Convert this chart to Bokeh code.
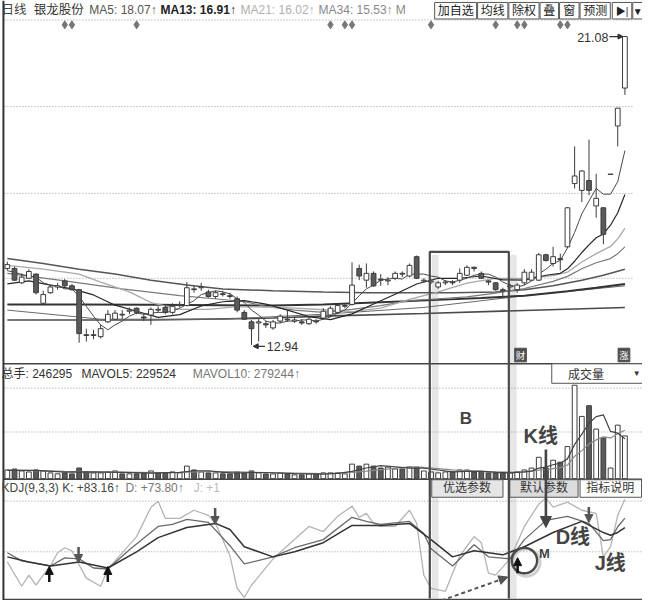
from bokeh.plotting import figure
from bokeh.models import Range1d, Label, Arrow, NormalHead, ColumnDataSource
from bokeh.embed import file_html
from bokeh.resources import INLINE

# ---------------- data ----------------
opens = [14.96,14.96,14.58,14.70,14.81,14.04,14.32,14.47,14.63,14.50,
         14.40,13.21,13.19,13.16,13.55,13.62,13.75,13.83,13.91,13.68,
         13.73,13.88,13.93,13.80,13.98,13.98,14.42,14.45,14.34,14.22,
         14.29,14.24,14.16,13.80,13.55,13.52,13.50,13.39,13.57,13.62,
         13.57,13.55,13.50,13.57,13.65,13.73,13.80,13.96,14.01,14.96,
         14.65,14.83,14.68,14.63,14.70,14.83,14.76,15.27,14.63,14.60,
         14.47,14.58,14.60,14.65,14.78,14.99,14.83,14.63,14.58,14.40,
         14.47,14.40,14.58,14.65,14.65,15.32,15.09,15.22,15.53,17.20,
         17.02,17.28,16.61,16.56,17.44,18.72,19.72]
highs = [15.14,15.01,14.83,14.94,14.83,14.37,14.52,14.58,14.68,14.55,
         14.42,13.37,13.34,13.47,13.86,13.86,13.86,13.93,13.93,13.75,
         13.93,13.96,14.01,14.04,14.09,14.60,14.50,14.58,14.40,14.37,
         14.37,14.32,14.22,13.86,13.60,13.62,13.57,13.60,13.75,13.86,
         13.68,13.62,13.68,13.62,13.91,13.96,14.04,14.04,15.12,15.06,
         15.09,14.88,14.81,14.73,14.88,14.88,15.09,15.30,14.70,14.68,
         14.63,14.65,14.65,14.96,15.04,15.01,14.88,14.65,14.60,14.45,
         14.55,14.58,14.94,14.94,15.37,15.35,15.53,15.35,16.58,18.18,
         17.56,18.36,17.46,16.58,17.45,19.19,21.08]
lows = [14.91,14.63,14.55,14.68,14.27,14.01,14.29,14.40,14.47,14.37,
        13.00,13.03,13.09,13.11,13.52,13.60,13.62,13.75,13.75,13.57,
        13.47,13.80,13.75,13.75,13.93,13.96,14.32,14.37,14.19,14.16,
        14.22,14.16,13.80,13.60,12.94,13.03,13.39,13.34,13.52,13.55,
        13.52,13.47,13.47,13.50,13.60,13.68,13.75,13.91,13.98,14.65,
        14.45,14.47,14.50,14.52,14.65,14.73,14.73,14.68,14.58,14.55,
        14.42,14.52,14.52,14.58,14.76,14.88,14.68,14.52,14.37,14.19,
        14.40,14.32,14.52,14.63,14.63,15.14,15.01,14.91,15.50,17.07,
        16.71,16.89,16.30,15.60,17.44,18.18,19.54]
closes = [15.06,14.65,14.73,14.88,14.32,14.27,14.47,14.50,14.50,14.40,
          13.24,13.19,13.21,13.37,13.75,13.78,13.73,13.86,13.80,13.65,
          13.88,13.86,13.80,13.96,14.01,14.45,14.40,14.47,14.22,14.32,
          14.27,14.22,13.86,13.62,13.37,13.55,13.47,13.55,13.70,13.60,
          13.60,13.52,13.62,13.55,13.83,13.91,13.98,13.98,14.52,14.76,
          14.83,14.50,14.65,14.65,14.83,14.81,15.04,14.70,14.65,14.63,
          14.58,14.60,14.58,14.83,14.99,14.96,14.70,14.60,14.40,14.37,
          14.50,14.52,14.86,14.86,15.32,15.17,15.27,15.19,16.56,17.40,
          17.53,17.02,16.81,15.86,17.45,19.19,21.08]
volumes = [50410,55870,44920,39150,50380,44760,33640,28120,33580,27960,
           61720,39240,33510,33660,39180,44850,27940,28060,28010,33620,
           44790,33570,33640,39210,33590,72860,50430,39170,33620,33580,
           28040,27990,39260,33610,44830,33570,28020,27980,33640,28010,
           22390,22460,28030,27970,33620,33580,33650,28040,84120,72790,
           83960,72830,61640,67180,56040,55970,67230,67160,44810,39230,
           33580,39210,39190,50440,50360,39220,39170,33610,33640,33570,
           33620,39180,50420,61590,123240,61630,106380,95170,184830,537620,
           358410,419960,285640,235180,61610,308020,246295]

ma5 = [14.90,14.86,14.80,14.76,14.73,14.58,14.52,14.50,14.42,14.42,
       14.22,13.96,13.70,13.47,13.34,13.47,13.57,13.70,13.78,13.75,
       13.78,13.80,13.80,13.83,13.91,14.01,14.11,14.27,14.32,14.37,
       14.34,14.29,14.16,14.06,13.86,13.73,13.57,13.52,13.52,13.57,
       13.57,13.60,13.60,13.57,13.62,13.68,13.78,13.86,14.04,14.24,
       14.42,14.52,14.65,14.68,14.70,14.68,14.81,14.81,14.81,14.76,
       14.73,14.63,14.60,14.65,14.70,14.78,14.81,14.81,14.73,14.60,
       14.52,14.47,14.52,14.63,14.81,14.94,15.09,15.17,15.50,15.91,
       16.40,16.74,17.07,16.92,16.92,17.25,18.07]
ma13_days = [0,3,6,9,12,15,18,21,24,27,30,33,36,39,42,45,48,51,54,57,
             60,63,66,69,72,75,77,78,79,80,81,82,83,84,85,86]
ma13 = [14.55,14.63,14.52,14.42,14.26,13.99,13.83,13.67,13.74,13.97,
        14.08,14.11,14.02,13.86,13.69,13.61,13.76,14.02,14.28,14.55,
        14.70,14.70,14.76,14.66,14.65,14.78,14.83,14.95,15.15,15.38,
        15.58,15.77,15.87,16.10,16.43,16.91]
ma21_days = [0,5,10,13,17,20,24,28,32,36,40,44,48,52,56,60,64,68,72,76,
             78,80,82,84,85,86]
ma21 = [15.04,14.94,14.81,14.60,14.34,14.06,13.88,13.88,13.95,13.94,
        13.91,13.87,13.82,13.91,14.14,14.34,14.57,14.70,14.69,14.77,
        14.86,15.13,15.35,15.54,15.74,16.02]
ma34_days = [0,8,16,24,30,33,36,40,44,48,52,56,60,64,68,72,76,78,80,82,84,85,86]
ma34 = [14.83,14.63,14.42,14.24,14.14,14.08,13.96,13.86,13.80,13.88,
        13.98,14.11,14.16,14.21,14.31,14.43,14.62,14.75,14.95,15.11,
        15.22,15.35,15.53]
ma55_days = [0,5,10,15,20,25,30,37,44,50,56,62,68,72,76,80,83,86]
ma55 = [15.22,15.09,14.94,14.81,14.65,14.52,14.42,14.37,14.34,14.32,
        14.32,14.32,14.34,14.40,14.50,14.65,14.78,14.94]
ma89_days = [0,10,20,30,37,44,52,60,66,72,78,82,86]
ma89 = [14.01,14.01,14.00,13.99,13.98,14.01,14.07,14.13,14.18,14.24,14.36,14.45,14.55]
ma120_days = [0,13,30,44,58,72,86]
ma120 = [13.86,13.62,13.62,13.75,13.93,14.24,14.50]
ma250_days = [0,20,37,44,58,72,86]
ma250 = [13.60,13.60,13.65,13.70,13.77,13.85,13.93]

mavol5_days = [0,4,8,12,16,20,24,26,28,30,32,34,36,40,44,46,48,50,52,54,56,58,
               60,62,64,66,68,70,72,73,74,75,76,77,78,79,80,81,82,83,84,85,86]
mavol5 = [47600,48200,38000,39200,37000,32500,37000,46000,46000,37000,32500,
          36000,36000,29000,27000,31000,42500,61600,75000,68300,61600,60500,
          50400,39200,42500,43700,37000,33600,39200,43700,61600,67200,80600,
          89600,114200,197100,256500,319200,357300,367400,272200,262100,229524]
mavol10_days = [0,4,8,12,16,20,24,28,32,36,40,44,48,50,52,54,56,58,60,62,64,66,
                68,70,72,74,75,76,77,78,79,80,81,82,83,84,85,86]
mavol10 = [50400,47000,42000,38000,38000,34700,35800,42000,39200,35300,32500,
           29700,35800,43700,52600,60000,68300,65000,58200,51000,46500,41400,
           39800,38000,39800,49800,51500,57700,63800,79000,129400,161800,199900,
           223400,240800,234600,259300,279244]

k_days = [0,2,6,8,10,12,14,17,21,23,25,28,31,33,37,40,44,48,50,52,
          56,58,59,62,65,67,70,72,75,78,81,83,84,85,86]
k_vals = [49,41,36,44,43,34,33,52,75,77,82,79,56,38,45,54,62,84,80,77,
          80,68,53,36,57,45,43,62,81,85,78,61,62,74.7,83.16]
d_days = [0,3,6,10,14,18,21,25,29,31,33,37,40,44,48,52,56,59,62,65,
          69,72,76,80,83,84,85,86]
d_vals = [45,40,36,40,34,50,64,74,78,72,55,45,50,59,76,76,78,62,45,51,
          47,55,69,80,69,66.3,69.1,73.8]
j_days = [0,2,3,4,5,6,7,8,9,10,11,13,14,16,18,20,21,22,24,26,
          28,29,31,32,33,34,37,39,42,44,46,48,49,50,51,52,54,56,57,58,
          59,61,63,65,66,67,68,70,72,74,75,76,78,80,82,83,84,85,86]
j_vals = [40,16,27,17,27,36,49,54,51,37,24,16,33,49,65,94,100,83,83,91,
          86,78,46,14,5,17,43,56,75,70,85,95,84,88,78,75,75,91,78,27,
          14,11,46,65,59,29,27,43,75,97,103,94,99,91,88,45,55,86,101.9]

event_days = [8, 9, 18, 45, 47, 48, 59, 68, 71, 72, 77, 78]
price_grid = [19.23, 16.94, 14.70]
vol_grid = [520800, 268800]
kdj_grid = [100, 50]

# ---------------- figure ----------------
FONT = "Liberation Sans, Noto Sans CJK SC"
INK = "#3c3c3c"

p = figure(width=642, height=600, output_backend="svg", toolbar_location=None,
           x_range=Range1d(-0.951, 88.45), y_range=Range1d(6.196, 22.031),
           x_axis_location=None, y_axis_location=None, min_border=0, title=None)
p.grid.visible = False
p.outline_line_color = None
p.background_fill_color = "white"
p.extra_y_ranges = {"vol": Range1d(-700000, 2749600),
                    "kdj": Range1d(1.92, 594.2),
                    "py": Range1d(616, 0)}
p.extra_x_ranges = {"px": Range1d(0, 658)}

# shading of box B (shadow bands)
p.quad(left=[442, 522], right=[449, 529], top=[261, 261], bottom=[614, 614],
       x_range_name="px", y_range_name="py", fill_color="#dedede",
       fill_alpha=0.75, line_color=None)

# dotted grid lines
p.segment(x0=[4], x1=[648], y0=[20], y1=[20], x_range_name="px", y_range_name="py",
          line_color="#9a9a9a", line_dash="1 2", line_width=1)
p.segment(x0=[4]*3, x1=[648]*3, y0=price_grid, y1=price_grid, x_range_name="px",
          line_color="#9a9a9a", line_dash="1 2", line_width=1)
p.segment(x0=[4]*2, x1=[658]*2, y0=vol_grid, y1=vol_grid, x_range_name="px",
          y_range_name="vol", line_color="#9a9a9a", line_dash="1 2", line_width=1)
p.segment(x0=[4]*2, x1=[658]*2, y0=kdj_grid, y1=kdj_grid, x_range_name="px",
          y_range_name="kdj", line_color="#9a9a9a", line_dash="1 2", line_width=1)

# candles
days = list(range(len(closes)))
up = [c >= o for o, c in zip(opens, closes)]
src = ColumnDataSource(dict(
    x=days, h=highs, l=lows,
    top=[max(o, c) for o, c in zip(opens, closes)],
    bot=[min(o, c) for o, c in zip(opens, closes)],
    fill=["white" if u else "#5a5a5a" for u in up],
    vol=volumes))

# moving averages
p.line(ma250_days, ma250, line_color="#4a4a4a", line_width=1.6)
p.line(ma120_days, ma120, line_color="#6a6a6a", line_width=1.0)
p.line(ma89_days, ma89, line_color="#333333", line_width=2.0)
p.line(ma55_days, ma55, line_color="#555555", line_width=1.5)
p.line(ma34_days, ma34, line_color="#7a7a7a", line_width=1.2)
p.line(ma21_days, ma21, line_color="#a8a8a8", line_width=1.3)
p.line(ma13_days, ma13, line_color="#262626", line_width=1.2)
p.line(days, ma5, line_color="#4a4a4a", line_width=1.0)

p.segment(x0="x", y0="h", x1="x", y1="l", source=src, line_color=INK, line_width=1)
p.vbar(x="x", width=0.66, top="top", bottom="bot", fill_color="fill",
       line_color=INK, line_width=1, source=src)

# event diamonds
p.scatter(x=event_days, y=[25]*len(event_days), y_range_name="py", marker="diamond",
          size=8, fill_color="#777777", line_color="#777777")

# volume
p.vbar(x="x", width=0.66, top="vol", bottom=0, fill_color="fill", line_color=INK,
       line_width=1, y_range_name="vol", source=src)
p.line(mavol10_days, mavol10, y_range_name="vol", line_color="#8a8a8a", line_width=1.2)
p.line(mavol5_days, mavol5, y_range_name="vol", line_color="#444444", line_width=1.2)

# KDJ
p.line(j_days, j_vals, y_range_name="kdj", line_color="#b4b4b4", line_width=1.3)
p.line(k_days, k_vals, y_range_name="kdj", line_color="#6a6a6a", line_width=1.3)
p.line(d_days, d_vals, y_range_name="kdj", line_color="#333333", line_width=1.5)

# panel separators and borders
p.segment(x0=[3, 3, 3], x1=[658, 658, 658], y0=[373, 491.5, 615], y1=[373, 491.5, 615],
          x_range_name="px", y_range_name="py", line_color="#444444", line_width=1.6)
p.segment(x0=[3], x1=[3], y0=[0], y1=[616], x_range_name="px", y_range_name="py",
          line_color="#333333", line_width=2)

# buttons at the top
btn_left = [445, 489, 521, 553, 573, 594, 627, 648]
btn_right = [488, 520, 552, 572, 593, 625, 647, 658]
btn_text = ["加自选", "均线", "除权", "叠", "窗", "预测", "▶|", "▼"]
p.quad(left=btn_left, right=btn_right, top=[2]*8, bottom=[19]*8,
       x_range_name="px", y_range_name="py", fill_color="white",
       line_color="#555555", line_width=1)

# volume dropdown
p.quad(left=[565], right=[659], top=[373], bottom=[393], x_range_name="px",
       y_range_name="py", fill_color="white", line_color="#555555", line_width=1)

# KDJ buttons
p.quad(left=[442, 522, 594], right=[515, 592, 657], top=[492, 492, 492],
       bottom=[510, 510, 510], x_range_name="px", y_range_name="py",
       fill_color=["#e6e6e6", "#dcdcdc", "white"], line_color="#555555", line_width=1)

# small icons
p.quad(left=[527, 633], right=[539, 645], top=[357, 357], bottom=[371, 371],
       x_range_name="px", y_range_name="py", fill_color="#505050", line_color="#505050")

# box B
p.line(x=[440, 440, 521, 521], y=[614, 258, 258, 614], x_range_name="px",
       y_range_name="py", line_color="#4a4a4a", line_width=2.2)

# circle M
p.circle(x=[539], y=[577], radius=14, x_range_name="px", y_range_name="py",
         fill_color=None, line_color="#d0d0d0", line_width=3)
p.circle(x=[537], y=[575], radius=13, x_range_name="px", y_range_name="py",
         fill_color=None, line_color="#4a4a4a", line_width=2.4)


def lab(x, y, text, size="11px", color="#333333", bold=False, align="left"):
    p.add_layout(Label(x=x, y=y, x_range_name="px", y_range_name="py", text=text,
                       text_font=FONT, text_font_size=size, text_color=color,
                       text_font_style="bold" if bold else "normal",
                       text_align=align, text_baseline="middle"))


def arrow(x0, y0, x1, y1, color, width=2.5, size=8, dash="solid"):
    p.add_layout(Arrow(end=NormalHead(size=size, fill_color=color, line_color=color),
                       x_start=x0, y_start=y0, x_end=x1, y_end=y1,
                       x_range_name="px", y_range_name="py",
                       line_color=color, line_width=width, line_dash=dash))


# header texts
lab(1, 10, "日线", "12.5px", "#444444")
lab(34, 10, "银龙股份", "12.5px", "#333333")
lab(91, 10, "MA5: 18.07↑", "12px", "#555555")
lab(164, 10, "MA13: 16.91↑", "12px", "#222222", bold=True)
lab(246, 10, "MA21: 16.02↑", "12px", "#b0b0b0")
lab(326, 10, "MA34: 15.53↑", "12px", "#888888")
lab(405, 10, "M", "12px", "#888888")
for l, r, t in zip(btn_left, btn_right, btn_text):
    lab((l + r) / 2, 11, t, "10px" if t[0] in "▶▼" else "12px",
        "#222222", align="center")

lab(1, 383, "总手: 246295", "12px", "#333333")
lab(83, 383, "MAVOL5: 229524", "12px", "#333333")
lab(197, 383, "MAVOL10: 279244↑", "12px", "#777777")
lab(600, 384, "成交量", "12px", "#333333", align="center")
lab(652, 383, "▼", "8px", "#333333", align="center")

lab(1, 500, "KDJ(9,3,3) K: +83.16↑", "12px", "#444444")
lab(128, 500, "D: +73.80↑", "12px", "#777777")
lab(198, 500, "J: +1", "12px", "#bbbbbb")
lab(478, 501, "优选参数", "12px", "#333333", align="center")
lab(557, 501, "默认参数", "12px", "#333333", align="center")
lab(625, 501, "指标说明", "12px", "#333333", align="center")

lab(533, 364, "财", "9.5px", "white", align="center")
lab(639, 364, "涨", "9.5px", "white", align="center")

lab(591, 38, "21.08", "12.5px", "#333333")
arrow(624, 37, 638, 37, "#333333", width=1.3, size=5)
lab(273, 355, "12.94", "12.5px", "#333333")
arrow(271, 355, 259, 355, "#333333", width=1.3, size=5)

lab(477, 429, "B", "17px", "#444444", bold=True, align="center")
lab(536, 447, "K线", "20px", "#444444", bold=True)
lab(569, 551, "D线", "20px", "#444444", bold=True)
lab(609, 578, "J线", "20px", "#444444", bold=True)
lab(552, 568, "M", "13px", "#444444", bold=True)

# arrows in KDJ panel
arrow(50, 597, 50, 581, "#111111")
arrow(110, 597, 110, 581, "#111111")
arrow(530, 588, 530, 572, "#111111")
arrow(80, 561, 80, 577, "#555555")
arrow(220, 521, 220, 538, "#555555")
arrow(603, 520, 603, 536, "#555555")
arrow(559, 461, 559, 541, "#444444", width=2.6, size=11)
arrow(452, 616, 520, 592, "#555555", width=2, size=9, dash="4 3")

open("out.html", "w").write(file_html(p, INLINE))
